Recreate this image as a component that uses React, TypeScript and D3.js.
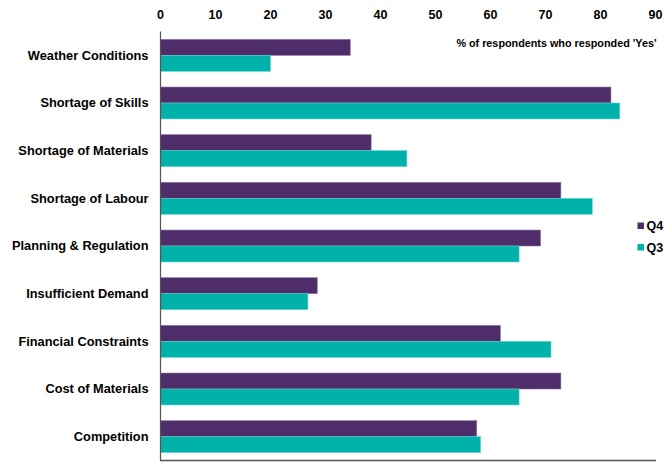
import React from "react";
import * as d3 from "d3";

const categories = [
  "Weather Conditions",
  "Shortage of Skills",
  "Shortage of Materials",
  "Shortage of Labour",
  "Planning & Regulation ",
  "Insufficient Demand",
  "Financial Constraints",
  "Cost of Materials",
  "Competition",
];
const q4Values = [34.5, 81.9, 38.3, 72.8, 69.1, 28.5, 61.8, 72.8, 57.5];
const q3Values = [20.0, 83.5, 44.8, 78.5, 65.2, 26.8, 71.0, 65.2, 58.2];
const seriesNames = ["Q4", "Q3"];
const xTicks = [0, 10, 20, 30, 40, 50, 60, 70, 80, 90];

const W = 665;
const H = 462;
const colors = ["#4F2D6A", "#00B2A9"];
const strokes = ["#8A74A0", "#5FD3CC"];
const font = "'Liberation Sans', Arial, sans-serif";

export default function App() {
  const x = d3.scaleLinear().domain([0, 90]).range([160.5, 655.5]);
  const y = d3
    .scaleBand<string>()
    .domain(categories)
    .range([31.5, 460.5])
    .paddingInner(0.33)
    .paddingOuter(0.165);
  const sub = d3.scaleBand<string>().domain(seriesNames).range([0, y.bandwidth()]);
  const series = [q4Values, q3Values];

  return (
    <svg
      width={W}
      height={H}
      style={{ position: "absolute", left: 0, top: 0, background: "#fff" }}
      fontFamily={font}
    >
      {xTicks.map((t) => (
        <text
          key={t}
          x={x(t)}
          y={19}
          textAnchor="middle"
          fontSize={12.5}
          fontWeight="bold"
          fill="#000"
        >
          {t}
        </text>
      ))}
      <text
        x={656.5}
        y={47}
        textAnchor="end"
        fontSize={10.8}
        fontWeight="bold"
        fill="#000"
      >
        % of respondents who responded 'Yes'
      </text>
      {categories.map((c, i) => (
        <g key={c}>
          {series.map((vals, s) => (
            <rect
              key={s}
              x={x(0)}
              y={(y(c) as number) + (sub(seriesNames[s]) as number)}
              width={x(vals[i]) - x(0)}
              height={sub.bandwidth()}
              fill={colors[s]}
              stroke={strokes[s]}
              strokeWidth={0.6}
            />
          ))}
          <text
            x={148.5}
            y={(y(c) as number) + y.bandwidth() / 2}
            dy="0.35em"
            textAnchor="end"
            fontSize={12.8}
            fontWeight="bold"
            fill="#000"
          >
            {c}
          </text>
        </g>
      ))}
      <line x1={160.5} x2={160.5} y1={31.5} y2={461} stroke="#555" strokeWidth={1.2} />
      <line x1={160} x2={656} y1={460.5} y2={460.5} stroke="#555" strokeWidth={1.4} />
      {seriesNames.map((n, s) => (
        <g key={n}>
          <rect x={637.5} y={222.5 + s * 21.5} width={6.5} height={6.5} fill={colors[s]} />
          <text
            x={646.5}
            y={226 + s * 21.5}
            dy="0.35em"
            fontSize={12.5}
            fontWeight="bold"
            fill="#000"
          >
            {n}
          </text>
        </g>
      ))}
    </svg>
  );
}
